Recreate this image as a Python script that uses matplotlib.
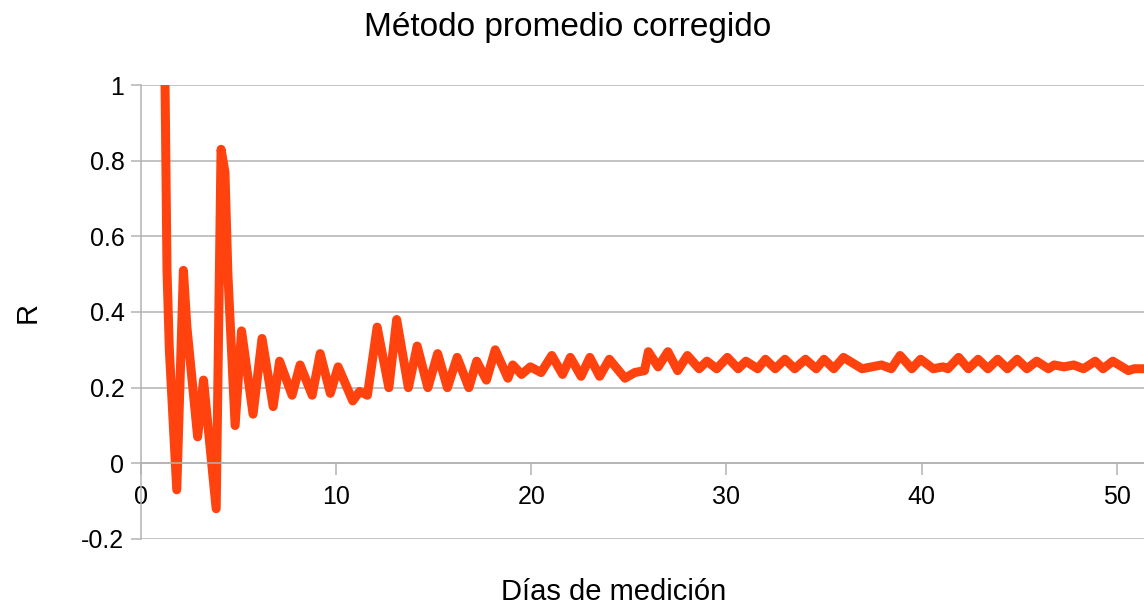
import matplotlib
matplotlib.use("Agg")
import matplotlib.pyplot as plt

plt.rcParams["font.family"] = ["Liberation Sans", "DejaVu Sans"]

# Daily peaks and troughs of the corrected average method
dias = [1.23, 1.33, 1.45, 1.83, 2.17, 2.35, 2.9, 3.2, 3.85, 4.1, 4.3, 4.45, 4.82,
        5.15, 5.74, 6.2, 6.77, 7.1, 7.74, 8.15, 8.77, 9.18, 9.7, 10.1, 10.85,
        11.2, 11.6, 12.1, 12.7, 13.1, 13.7, 14.15, 14.7, 15.2, 15.7, 16.2, 16.8,
        17.2, 17.7, 18.15, 18.8, 19.05, 19.5, 19.95, 20.5, 21.05, 21.6, 22.0,
        22.55, 23.0, 23.5, 24.0, 24.8, 25.3, 25.8, 26.0, 26.5, 27.0, 27.5, 28.0,
        28.6, 29.0, 29.5, 30.05, 30.6, 31.0, 31.6, 32.0, 32.5, 33.0, 33.5, 34.05,
        34.6, 35.0, 35.5, 36.0, 36.95, 37.95, 38.45, 38.9, 39.5, 39.95, 40.6,
        41.1, 41.35, 41.9, 42.4, 42.9, 43.4, 43.9, 44.4, 44.9, 45.4, 45.9, 46.5,
        46.8, 47.3, 47.8, 48.3, 48.9, 49.3, 49.8, 50.6, 50.9, 51.4]
r = [1.0, 0.51, 0.30, -0.07, 0.51, 0.36, 0.07, 0.22, -0.12, 0.83, 0.77, 0.5, 0.10,
     0.35, 0.13, 0.33, 0.15, 0.27, 0.18, 0.26, 0.18, 0.29, 0.185, 0.255, 0.165,
     0.19, 0.18, 0.36, 0.20, 0.38, 0.20, 0.31, 0.20, 0.29, 0.20, 0.28, 0.20,
     0.27, 0.22, 0.30, 0.225, 0.26, 0.235, 0.255, 0.24, 0.285, 0.235, 0.28,
     0.23, 0.28, 0.23, 0.275, 0.225, 0.24, 0.245, 0.295, 0.255, 0.295, 0.245, 0.285,
     0.25, 0.27, 0.25, 0.28, 0.25, 0.27, 0.25, 0.275, 0.25, 0.275, 0.25, 0.275,
     0.25, 0.275, 0.25, 0.28, 0.25, 0.26, 0.25, 0.285, 0.25, 0.275, 0.25,
     0.255, 0.25, 0.28, 0.25, 0.275, 0.25, 0.275, 0.25, 0.275, 0.25, 0.27, 0.25,
     0.26, 0.255, 0.26, 0.25, 0.27, 0.25, 0.27, 0.245, 0.25, 0.25]

x_ticks = [0, 10, 20, 30, 40, 50]
y_ticks = [-0.2, 0, 0.2, 0.4, 0.6, 0.8, 1]
y_labels = ["-0.2", "0", "0.2", "0.4", "0.6", "0.8", "1"]

gris = "#b3b3b3"

fig = plt.figure(figsize=(11.44, 6.05), dpi=100)
ax = fig.add_axes([0.1233, 0.1091, 0.8767, 0.7504])

ax.plot(dias, r, color="#ff420e", lw=6.5, solid_joinstyle="round",
        solid_capstyle="butt")

ax.set_xlim(0, 51.4)
ax.set_ylim(-0.2, 1)
ax.set_yticks(y_ticks)
ax.set_yticklabels(y_labels)
ax.set_xticks(x_ticks)

ax.grid(axis="y", color=gris, lw=1.1)
ax.set_axisbelow(True)
for s in ["top", "right"]:
    ax.spines[s].set_visible(False)
ax.spines["left"].set_color(gris)
ax.spines["left"].set_linewidth(1.1)
ax.spines["bottom"].set_position(("data", 0))
ax.spines["bottom"].set_color(gris)
ax.spines["bottom"].set_linewidth(1.1)

ax.tick_params(axis="y", length=7, width=1.1, color=gris, pad=5,
               labelsize=18, labelcolor="#000000")
ax.tick_params(axis="x", length=8.5, width=1.1, color=gris, pad=7,
               labelsize=18, labelcolor="#000000", direction="out")

fig.text(0.496, 0.955, "Método promedio corregido", fontsize=24,
         ha="center", va="center")
fig.text(0.536, 0.021, "Días de medición", fontsize=21, ha="center", va="center")
fig.text(0.0245, 0.484, "R", fontsize=21, rotation=90, ha="center", va="center")

fig.savefig("out.png", dpi=100)
